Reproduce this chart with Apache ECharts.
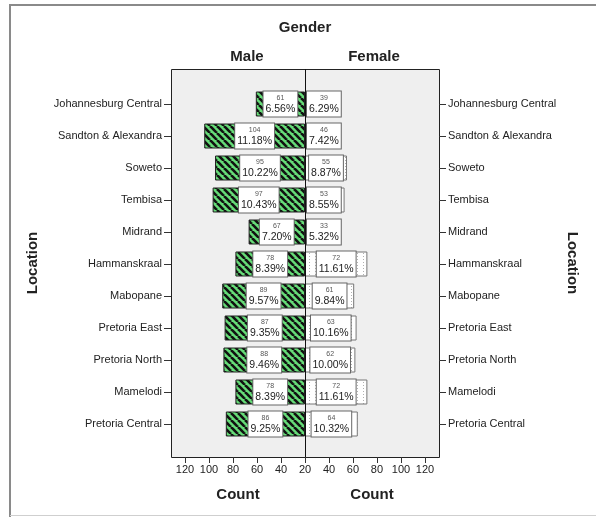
<!DOCTYPE html>
<html>
<head>
<meta charset="utf-8">
<script src="https://cdn.jsdelivr.net/npm/echarts@6/dist/echarts.min.js"></script>
<style>
html, body { margin: 0; background: #fff; }
#chart { width: 596px; height: 517px; }
</style>
</head>
<body>
<div id="chart"></div>
<script>
// data
const locations = [
  'Johannesburg Central', 'Sandton & Alexandra', 'Soweto', 'Tembisa', 'Midrand',
  'Hammanskraal', 'Mabopane', 'Pretoria East', 'Pretoria North', 'Mamelodi', 'Pretoria Central'
];
const maleCounts = [61, 104, 95, 97, 67, 78, 89, 87, 88, 78, 86];
const malePercents = [6.56, 11.18, 10.22, 10.43, 7.20, 8.39, 9.57, 9.35, 9.46, 8.39, 9.25];
const femaleCounts = [39, 46, 55, 53, 33, 72, 61, 63, 62, 72, 64];
const femalePercents = [6.29, 7.42, 8.87, 8.55, 5.32, 11.61, 9.84, 10.16, 10.00, 11.61, 10.32];
const countTicks = [20, 40, 60, 80, 100, 120];

const AXIS_MIN = 20;
const AXIS_MAX = 131.7;
const HALF_W = 134;      // px width of each half
const BOX_W = 36;        // approx width of a label box
const FONT = '"Liberation Sans", Arial, sans-serif';

function hatchPattern() {
  const c = document.createElement('canvas');
  c.width = 7; c.height = 7;
  const g = c.getContext('2d');
  g.fillStyle = '#66dc78';
  g.fillRect(0, 0, 7, 7);
  g.strokeStyle = '#111';
  g.lineWidth = 2.6;
  for (let k = -7; k <= 7; k += 7) {
    g.beginPath(); g.moveTo(k, 0); g.lineTo(k + 7, 7); g.stroke();
  }
  return c;
}

function dotPattern() {
  const c = document.createElement('canvas');
  c.width = 6; c.height = 3;
  const g = c.getContext('2d');
  g.fillStyle = '#fff';
  g.fillRect(0, 0, 6, 3);
  g.fillStyle = '#b0b0b0';
  g.fillRect(3, 1, 1, 1);
  return c;
}

function barLabel(count, pct, pos) {
  return {
    show: true,
    position: pos,
    distance: 2,
    formatter: '{c|' + count + '}\n{p|' + pct.toFixed(2) + '%}',
    backgroundColor: '#fff',
    borderColor: '#666',
    borderWidth: 1,
    padding: [2, 2, 1, 2],
    rich: {
      c: { fontSize: 7, color: '#555', lineHeight: 9, align: 'center', fontFamily: FONT },
      p: { fontSize: 10.5, color: '#222', lineHeight: 13, align: 'center', fontFamily: FONT }
    }
  };
}

const maleData = maleCounts.map((v, i) => ({
  value: v,
  label: barLabel(v, malePercents[i], 'inside')
}));
const femaleData = femaleCounts.map((v, i) => {
  const px = (v - AXIS_MIN) * HALF_W / (AXIS_MAX - AXIS_MIN);
  return { value: v, label: barLabel(v, femalePercents[i], px < BOX_W + 4 ? 'insideLeft' : 'inside') };
});

function valueAxis(idx, inverse, labelValues) {
  return {
    type: 'value', gridIndex: idx, inverse: inverse,
    min: AXIS_MIN, max: AXIS_MAX, interval: 20, startValue: AXIS_MIN,
    position: 'bottom', offset: 17,
    axisLine: { show: false },
    axisTick: { show: true, length: 6, customValues: countTicks, lineStyle: { color: '#333' } },
    axisLabel: { customValues: labelValues, fontSize: 11, color: '#222', margin: 7, fontFamily: FONT },
    splitLine: { show: false },
    name: 'Count', nameLocation: 'middle', nameGap: 30,
    nameTextStyle: { fontSize: 15, fontWeight: 'bold', color: '#222', fontFamily: FONT }
  };
}

function catAxis(idx, pos) {
  return {
    type: 'category', gridIndex: idx, data: locations, inverse: true, position: pos,
    axisLine: { show: false },
    axisTick: { show: true, length: 7, alignWithLabel: true, lineStyle: { color: '#333' } },
    axisLabel: { fontSize: 11, color: '#222', margin: 9, fontFamily: FONT }
  };
}

function titleText(text, x, y, rot) {
  return {
    type: 'text', x: x, y: y, rotation: rot || 0, z: 20,
    style: {
      text: text, font: 'bold 15px ' + FONT, fill: '#222',
      textAlign: 'center', textVerticalAlign: 'middle'
    }
  };
}

const chart = echarts.init(document.getElementById('chart'), null, { renderer: 'canvas' });
chart.setOption({
  animation: false,
  backgroundColor: '#fff',
  textStyle: { fontFamily: FONT },
  grid: [
    { left: 171, top: 88, width: HALF_W, height: 352 },
    { left: 305, top: 88, width: HALF_W, height: 352 }
  ],
  // the shared "20" at the centre is labelled once, by the left axis
  xAxis: [valueAxis(0, true, countTicks), valueAxis(1, false, countTicks.slice(1))],
  yAxis: [catAxis(0, 'left'), catAxis(1, 'right')],
  graphic: [
    {
      type: 'rect', z: -10, silent: true,
      shape: { x: 171.5, y: 69.5, width: 268, height: 388 },
      style: { fill: '#efefef', stroke: '#222', lineWidth: 1 }
    },
    {
      type: 'line', z: 10, silent: true,
      shape: { x1: 305.5, y1: 69, x2: 305.5, y2: 457 },
      style: { stroke: '#111', lineWidth: 1 }
    },
    {
      type: 'polyline', z: 10, silent: true,
      shape: { points: [[10, 517], [10, 5], [596, 5]] },
      style: { stroke: '#8a8a8a', lineWidth: 2, fill: null }
    },
    {
      type: 'line', z: 10, silent: true,
      shape: { x1: 10, y1: 515.5, x2: 596, y2: 515.5 },
      style: { stroke: '#cfcfcf', lineWidth: 1 }
    },
    titleText('Gender', 305, 28),
    titleText('Male', 247, 57),
    titleText('Female', 374, 57),
    titleText('Location', 33, 263, Math.PI / 2),
    titleText('Location', 572, 263, -Math.PI / 2)
  ],
  series: [
    {
      name: 'Male', type: 'bar', xAxisIndex: 0, yAxisIndex: 0,
      barWidth: 25,
      itemStyle: { color: { image: hatchPattern(), repeat: 'repeat' }, borderColor: '#222', borderWidth: 1 },
      data: maleData
    },
    {
      name: 'Female', type: 'bar', xAxisIndex: 1, yAxisIndex: 1,
      barWidth: 25,
      itemStyle: { color: { image: dotPattern(), repeat: 'repeat' }, borderColor: '#777', borderWidth: 1 },
      data: femaleData
    }
  ]
});
</script>
</body>
</html>
